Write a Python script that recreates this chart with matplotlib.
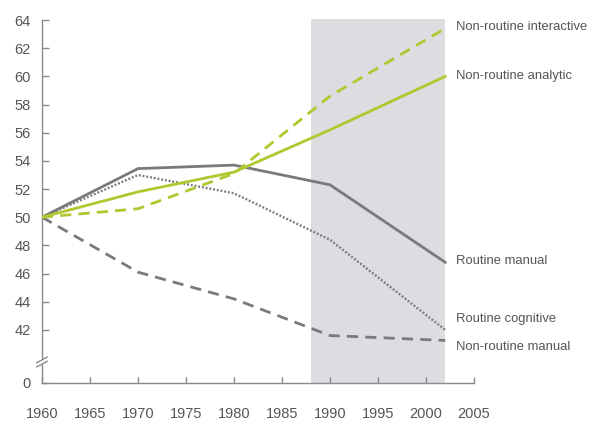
import matplotlib.pyplot as plt
from matplotlib.font_manager import findfont, FontProperties

# data (index points, 1960 = 50)
years = [1960, 1970, 1980, 1990, 2002]
nr_interactive = [50.0, 50.6, 53.1, 58.6, 63.4]
nr_analytic = [50.0, 51.8, 53.2, 56.2, 60.0]
routine_manual = [50.0, 53.45, 53.7, 52.3, 46.8]
routine_cognitive = [50.0, 53.0, 51.7, 48.4, 42.0]
nr_manual = [50.0, 46.1, 44.2, 41.6, 41.25]

series_names = ["Non-routine interactive", "Non-routine analytic", "Routine manual",
                "Routine cognitive", "Non-routine manual"]
label_y = [63.5, 60.0, 46.9, 42.8, 40.8]

ytick_vals = [42, 44, 46, 48, 50, 52, 54, 56, 58, 60, 62, 64]
xtick_vals = [1960, 1965, 1970, 1975, 1980, 1985, 1990, 1995, 2000, 2005]
shade = (1988, 2002)
zero_pos = 38.23  # where the "0" sits below the axis break

green = "#b2c62e"
grey = "#7a7a7c"
txt = "#555555"

fam = "Liberation Sans Narrow"
try:
    findfont(FontProperties(family=fam), fallback_to_default=False)
except Exception:
    fam = "Liberation Sans"
plt.rcParams["font.family"] = [fam, "DejaVu Sans"]

fig = plt.figure(figsize=(5.95, 4.22), dpi=100)
ax = fig.add_axes([42 / 595, 1 - 383 / 422, (474 - 42) / 595, (383 - 18.6) / 422])

ax.axvspan(shade[0], shade[1], color="#dcdde0", lw=0, zorder=0)

ax.plot(years, nr_manual, color=grey, lw=2, ls=(0, (4, 2.6)), zorder=3)
ax.plot(years, routine_cognitive, color=grey, lw=1.7, ls=(0, (0.8, 0.8)), zorder=3)
ax.plot(years, routine_manual, color=grey, lw=2, zorder=3)
ax.plot(years, nr_interactive, color=green, lw=2, ls=(0, (4, 2.6)), zorder=4)
ax.plot(years, nr_analytic, color=green, lw=2, zorder=4)

for name, y in zip(series_names, label_y):
    ax.text(2003.1, y, name, fontsize=9.4, color=txt, va="center", ha="left")

ax.set_xlim(1960, 2005)
ax.set_ylim(zero_pos, 64.1)
ax.set_xticks(xtick_vals)
ax.set_yticks([zero_pos] + ytick_vals)
ax.set_yticklabels(["0"] + [str(v) for v in ytick_vals])

for s in ["top", "right"]:
    ax.spines[s].set_visible(False)
for s in ["left", "bottom"]:
    ax.spines[s].set_color("#8a8a8a")
    ax.spines[s].set_linewidth(1)
ax.spines["left"].set_bounds(zero_pos, 64)

ax.tick_params(axis="x", direction="in", length=4, width=1, color="#8a8a8a",
               labelsize=10.5, labelcolor=txt, pad=17)
ax.tick_params(axis="y", direction="in", length=5, width=1, color="#8a8a8a",
               labelsize=10.5, labelcolor=txt, pad=8)

# axis break marks
tr = ax.get_yaxis_transform()
brk = 39.72
ax.plot([-0.006, 0.006], [brk - 0.05, brk + 0.05], color="white", lw=4, transform=tr,
        clip_on=False, zorder=5, solid_capstyle="butt")
ax.plot([-0.012, 0.012], [brk - 0.35, brk + 0.05], color="#8a8a8a", lw=1, transform=tr,
        clip_on=False, zorder=6)
ax.plot([-0.012, 0.012], [brk - 0.05, brk + 0.35], color="#8a8a8a", lw=1, transform=tr,
        clip_on=False, zorder=6)

fig.savefig("out.png", dpi=100)
